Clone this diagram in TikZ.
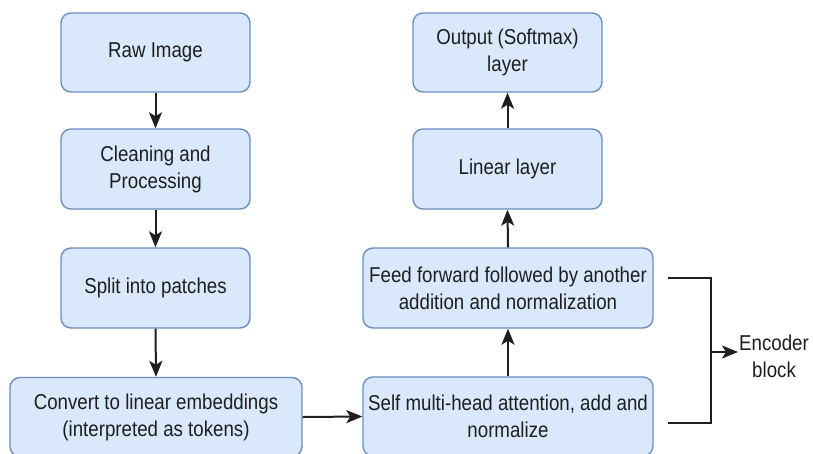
\documentclass[tikz,border=0pt]{standalone}
\usepackage{fontspec}
\setmainfont{Liberation Sans}[FakeStretch=0.87]
\usetikzlibrary{arrows.meta}

\definecolor{boxfill}{HTML}{DAE8FC}
\definecolor{boxline}{HTML}{6C8EBF}
\definecolor{ink}{HTML}{1E1E1E}

\tikzset{
  stagebox/.style={draw=boxline, fill=boxfill, line width=1.4pt,
    rounded corners=10pt, align=center, text=ink, inner sep=0pt,
    font=\fontsize{21.5}{27}\selectfont},
  flow/.style={draw=ink, line width=2pt,
    -{Stealth[length=16pt,width=13pt,inset=4pt]}},
  bracket/.style={draw=ink, line width=2pt},
  label/.style={align=center, text=ink, inner sep=2pt,
    font=\fontsize{21.5}{27}\selectfont}
}

\begin{document}
\begin{tikzpicture}[x=1pt,y=1pt]
  \clip (0,0) rectangle (813,-453);
  \fill[white] (0,0) rectangle (813,-453);

  % left column: preprocessing
  \node[stagebox, minimum width=189pt, minimum height=79pt] (raw)   at (155.5,-52.5) {Raw Image};
  \node[stagebox, minimum width=189pt, minimum height=80pt] (clean) at (155.5,-169)  {Cleaning and\\Processing};
  \node[stagebox, minimum width=189pt, minimum height=80pt] (split) at (155.5,-288)  {Split into patches};
  \node[stagebox, minimum width=292pt, minimum height=79pt] (conv)  at (156,-417)    {Convert to linear embeddings\\(interpreted as tokens)};

  % right column: encoder and head
  \node[stagebox, minimum width=290pt, minimum height=79pt] (self)  at (508,-416.5)  {Self multi-head attention, add and\\normalize};
  \node[stagebox, minimum width=290pt, minimum height=80pt] (feed)  at (508,-288)    {Feed forward followed by another\\addition and normalization};
  \node[stagebox, minimum width=189pt, minimum height=80pt] (lin)   at (507.5,-169)  {Linear layer};
  \node[stagebox, minimum width=189pt, minimum height=79pt] (out)   at (507.5,-52.5) {Output (Softmax)\\layer};

  % flow arrows
  \draw[flow] (raw.south)   -- (clean.north);
  \draw[flow] (clean.south) -- (split.north);
  \draw[flow] (split.south) -- (conv.north);
  \draw[flow] (conv.east)   -- (self.west);
  \draw[flow] (self.north)  -- (feed.south);
  \draw[flow] (feed.north)  -- (lin.south);
  \draw[flow] (lin.north)   -- (out.south);

  % encoder block bracket
  \coordinate (btop) at (668,-278);
  \coordinate (bbot) at (668,-423);
  \coordinate (bmid) at (711,-352);
  \coordinate (etip) at (738,-352);
  \draw[bracket] (btop) -| (bmid) |- (bbot);
  \draw[flow] (bmid) -- (etip);
  \node[label, anchor=west] (enc) at (737,-356) {Encoder\\block};
\end{tikzpicture}
\end{document}
